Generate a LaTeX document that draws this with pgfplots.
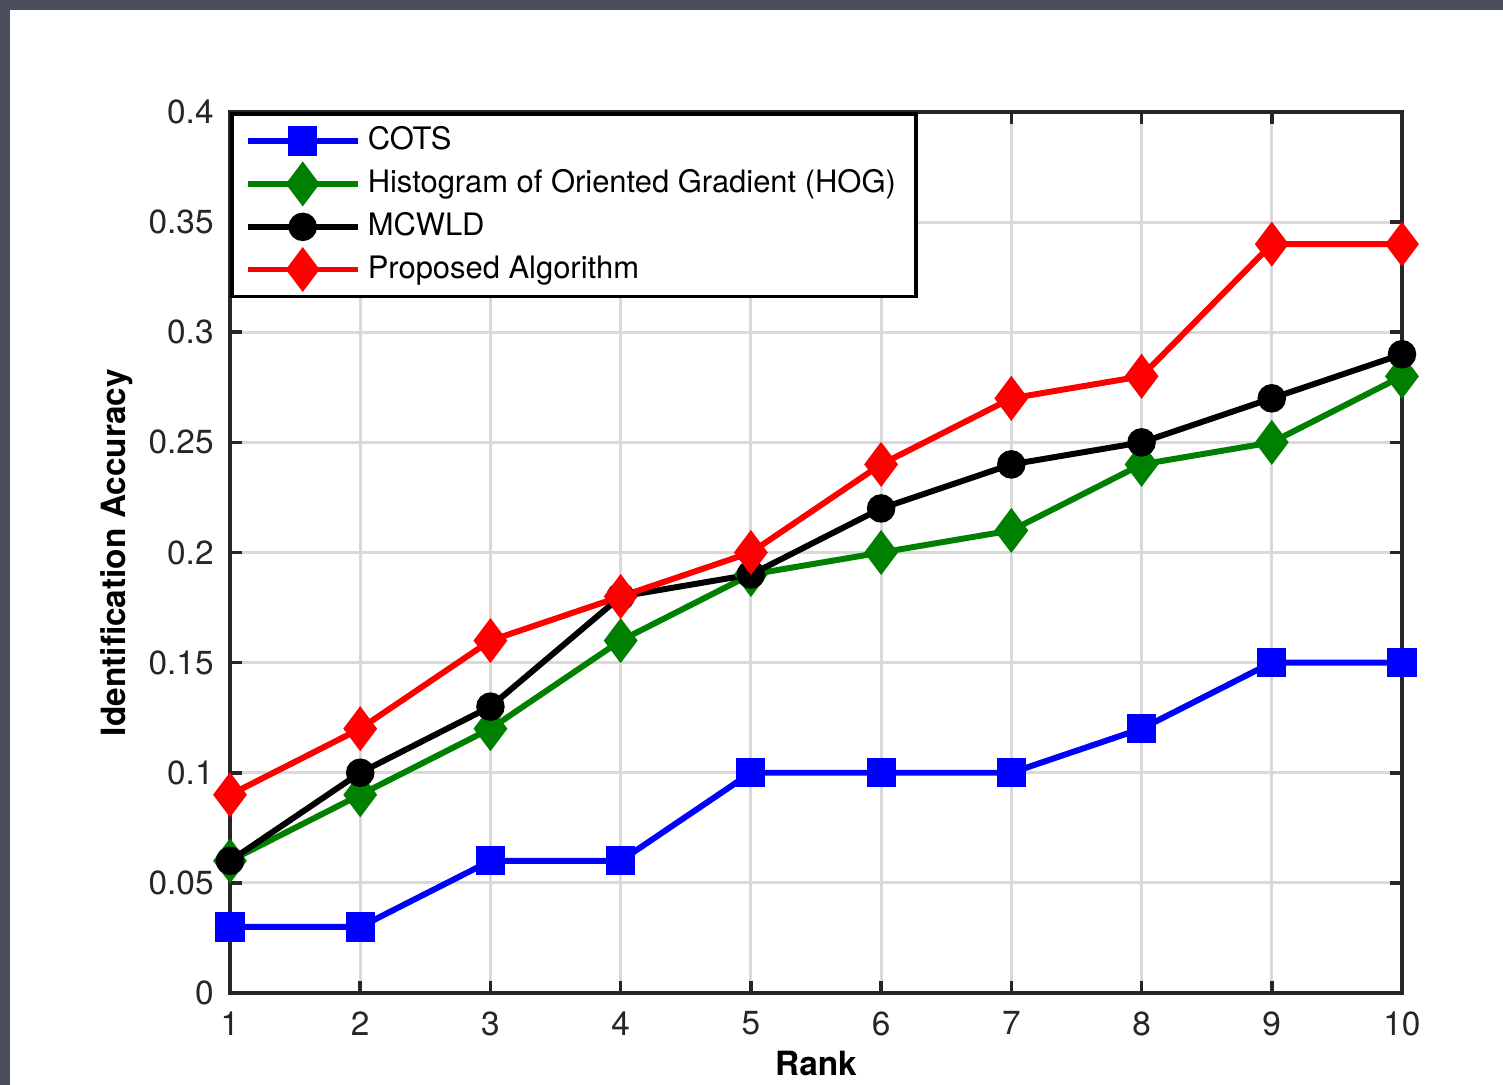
\documentclass[border=0pt]{standalone}
\usepackage{pgfplots}
\pgfplotsset{compat=1.18}
\usepackage{fontspec}
\setmainfont{TeX Gyre Heros}
\definecolor{bgdark}{RGB}{74,78,92}
\definecolor{axgray}{RGB}{38,38,38}
\definecolor{mgreen}{RGB}{0,128,0}
\begin{document}
\begin{tikzpicture}[x=1mm,y=1mm]
\useasboundingbox (0,0) rectangle (150.3,108.5);
\fill[bgdark] (0,0) rectangle (150.3,108.5);
\fill[white] (1.0,0) rectangle (150.3,107.5);
\begin{axis}[
  at={(23.0mm,9.2mm)}, anchor=south west,
  scale only axis, width=117.2mm, height=88.1mm,
  xmin=1, xmax=10, ymin=0, ymax=0.4,
  xtick={1,...,10},
  ytick={0,0.05,0.1,0.15,0.2,0.25,0.3,0.35,0.4},
  yticklabels={0,0.05,0.1,0.15,0.2,0.25,0.3,0.35,0.4},
  xticklabels={1,2,3,4,5,6,7,8,9,10},
  /pgf/number format/assume math mode=true,
  tick align=inside, major tick length=1.2mm,
  tick style={axgray, line width=1pt},
  axis line style={axgray, line width=1pt},
  grid=major, major grid style={black!15, line width=0.8pt},
  ticklabel style={font=\fontsize{9.5}{11}\selectfont, text=axgray},
  xticklabel style={yshift=-0.6mm},
  yticklabel style={xshift=-0.4mm},
  xlabel={\textbf{Rank}}, ylabel={\textbf{Identification Accuracy}},
  label style={font=\fontsize{9.5}{11}\selectfont},
  xlabel style={at={(axis description cs:0.5,0)}, anchor=center, yshift=-7.0mm},
  ylabel style={at={(axis description cs:0,0.5)}, anchor=center, yshift=11.3mm},
  legend cell align=left,
  legend style={at={(0,1)}, anchor=north west, draw=black, line width=1pt,
    font=\fontsize{8.8}{10}\selectfont, inner xsep=1.3mm, inner ysep=0.6mm, row sep=0.05mm,
    /tikz/every even column/.append style={column sep=0.5mm}},
  legend image code/.code={\draw[#1, mark repeat=2, mark phase=2] plot coordinates {(0mm,0mm) (5.5mm,0mm) (11mm,0mm)};},
  every axis plot/.append style={line width=1.7pt},
]
\addplot[blue, mark=square*, mark size=3.3pt, mark options={solid}] coordinates {
(1,0.03) (2,0.03) (3,0.06) (4,0.06) (5,0.10) (6,0.10) (7,0.10) (8,0.12) (9,0.15) (10,0.15)};
\addlegendentry{COTS}
\addplot[mgreen, mark=diamond*, mark size=5pt, mark options={solid}] coordinates {
(1,0.06) (2,0.09) (3,0.12) (4,0.16) (5,0.19) (6,0.20) (7,0.21) (8,0.24) (9,0.25) (10,0.28)};
\addlegendentry{Histogram of Oriented Gradient (HOG)}
\addplot[black, mark=*, mark size=3.2pt, mark options={solid}] coordinates {
(1,0.06) (2,0.10) (3,0.13) (4,0.18) (5,0.19) (6,0.22) (7,0.24) (8,0.25) (9,0.27) (10,0.29)};
\addlegendentry{MCWLD}
\addplot[red, mark=diamond*, mark size=5pt, mark options={solid}] coordinates {
(1,0.09) (2,0.12) (3,0.16) (4,0.18) (5,0.20) (6,0.24) (7,0.27) (8,0.28) (9,0.34) (10,0.34)};
\addlegendentry{Proposed Algorithm}
\end{axis}
\end{tikzpicture}
\end{document}
